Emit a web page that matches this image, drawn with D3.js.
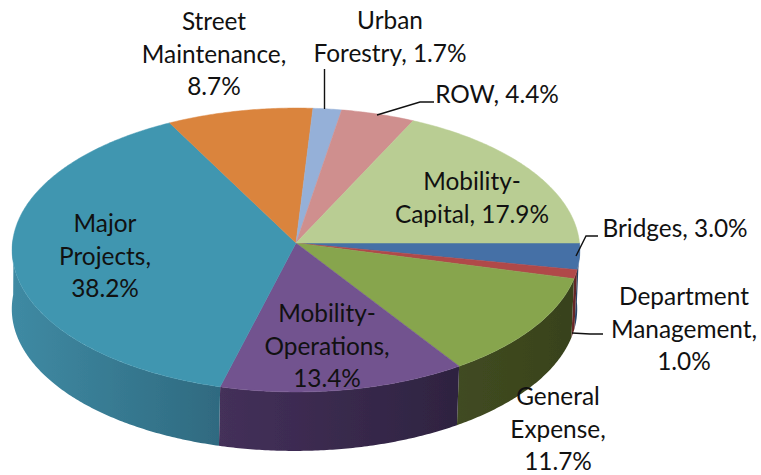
<!DOCTYPE html>
<html><head><meta charset="utf-8">
<script src="https://cdnjs.cloudflare.com/ajax/libs/d3/7.8.5/d3.min.js"></script>
<style>html,body{margin:0;background:#fff}svg{display:block}text{font-family:Lato,"Open Sans",sans-serif;font-size:24.4px;fill:#111;text-anchor:middle}</style>
</head><body><svg id="c" width="761" height="475"></svg>
<script>
const categories=["Bridges","Department Management","General Expense","Mobility-Operations","Major Projects","Street Maintenance","Urban Forestry","ROW","Mobility-Capital"];
const shares=[3.0,1.0,11.7,13.4,38.2,8.7,1.7,4.4,17.9];
const topColors=["#4470a6","#b0484a","#87a54e","#72528f","#4096b0","#da843e","#95b0d8","#cf8f8e","#b9cd93"];
const sideLight=["#2c4a70","#6f2b2c","#414b21","#44305a","#3f8aa3","#8f5424","#5f7390","#8a5d5c","#7a8a5e"];
const sideDark=["#233a58","#5a2222","#38421c","#2e2340","#2f6a80","#7a481e","#52637c","#77504f","#69774f"];
const labelLines=[["Bridges, 3.0%"],["Department","Management,","1.0%"],["General","Expense,","11.7%"],["Mobility-","Operations,","13.4%"],["Major","Projects,","38.2%"],["Street","Maintenance,","8.7%"],["Urban","Forestry, 1.7%"],["ROW, 4.4%"],["Mobility-","Capital, 17.9%"]];

const labelCenter=[[675,236],[684,337],[558,437],[327,354],[105,264],[214,62],[390,45],[497,102],[472,206]];
const leaders=[[[598,236],[586,236],[576,256]],[[603,334],[590,334],[572,333]],null,null,null,null,[[324.5,69],[324.5,109]],[[434,102],[420,102],[377,115]],null];
const lineStep=32.7;

const cx=296,cy=243,rx=283.5,ry=141.6,k=0.0493,depth=59;
const svg=d3.select("#c");
const defs=svg.append("defs");
defs.append("filter").attr("id","soft").append("feGaussianBlur").attr("stdDeviation",0.45);

// Project a pie angle (clockwise from 3 o'clock) onto the tilted top face.
function project(a,d){
  const u=Math.cos(a),v=Math.sin(a),w=1-k*v;
  const sc=d?0.996:1, dx=d?-1.5:0;
  return [cx+dx+rx*sc*u/w, cy+ry*v/w+(d||0)];
}
const pie=d3.pie().sort(null).startAngle(0).endAngle(2*Math.PI);
const arcs=pie(shares);
const line=d3.line();
function samples(a0,a1){
  const n=Math.max(2,Math.ceil((a1-a0)/0.01));
  return d3.range(n+1).map(i=>a0+(a1-a0)*i/n);
}
shares.forEach((_,i)=>{
  const g=defs.append("linearGradient").attr("id","side"+i);
  g.append("stop").attr("offset",0).attr("stop-color",sideLight[i]);
  g.append("stop").attr("offset",1).attr("stop-color",sideDark[i]);
});
const pieG=svg.append("g").attr("filter","url(#soft)");
// sides: only the part of the rim facing the viewer
const limit=Math.PI+0.05;
pieG.selectAll("path.side").data(arcs.filter(d=>d.startAngle<limit)).join("path")
  .attr("class","side")
  .attr("d",d=>{
    const t=samples(d.startAngle,Math.min(d.endAngle,limit));
    return line([...t.map(a=>project(a)),...t.slice().reverse().map(a=>project(a,depth))])+"Z";
  })
  .attr("fill",d=>`url(#side${d.index})`);
// top face
pieG.selectAll("path.top").data(arcs).join("path")
  .attr("class","top")
  .attr("d",d=>line([[cx,cy],...samples(d.startAngle,d.endAngle).map(a=>project(a))])+"Z")
  .attr("fill",d=>topColors[d.index])
  .attr("stroke",d=>topColors[d.index]).attr("stroke-width",0.5);

// leader lines
svg.selectAll("path.leader").data(leaders.filter(Boolean)).join("path")
  .attr("class","leader").attr("d",d=>line(d))
  .attr("fill","none").attr("stroke","#111").attr("stroke-width",1.4);

// labels
const lab=svg.selectAll("text").data(labelLines).join("text")
  .attr("transform",(d,i)=>`translate(${labelCenter[i][0]},${labelCenter[i][1]})`);
lab.selectAll("tspan").data(d=>d.map((s,j)=>({s,j,n:d.length}))).join("tspan")
  .attr("x",0).attr("y",d=>(d.j-(d.n-1)/2)*lineStep+0.5).text(d=>d.s);
</script></body></html>
